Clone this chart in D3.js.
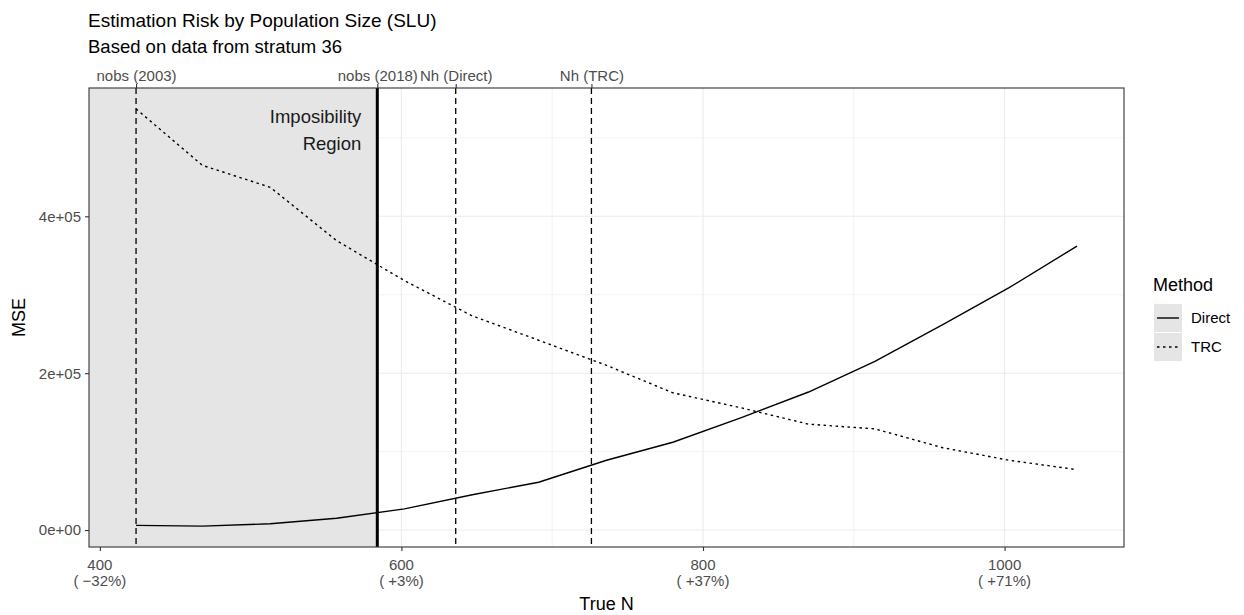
<!DOCTYPE html>
<html>
<head>
<meta charset="utf-8">
<script src="https://cdn.jsdelivr.net/npm/d3@7"></script>
<style>
  body { margin: 0; background: #fff; }
  text { font-family: "Liberation Sans", Arial, Helvetica, sans-serif; }
</style>
</head>
<body>
<svg id="chart" width="1244" height="615"></svg>
<script>
// ---- data ----
const trueN = [424, 468, 513, 557, 602, 647, 691, 736, 780, 825, 870, 914, 959, 1003, 1048];
const mseDirect = [6000, 5000, 8000, 15000, 27000, 45000, 61000, 89000, 112000, 143000, 176000, 215000, 262000, 309000, 362000];
const mseTRC = [537000, 465000, 437000, 369000, 318000, 273000, 242000, 210000, 175000, 156000, 135000, 129000, 105000, 89000, 77000];
const methods = ["Direct", "TRC"];
const refN = 584; // nobs (2018)
const markerValues = [424, 584, 636, 726];
const markerLabels = ["nobs (2003)", "nobs (2018)", "Nh (Direct)", "Nh (TRC)"];
const xTicks = [400, 600, 800, 1000];
const xTickPct = ["( \u221232%)", "( +3%)", "( +37%)", "( +71%)"];
const yTicks = [0, 200000, 400000];
const yTickLabels = ["0e+00", "2e+05", "4e+05"];

// ---- layout ----
const svg = d3.select("#chart");
const L = 89, R = 1124, T = 88, B = 547;
const FONT = "Liberation Sans, Arial, sans-serif";

function expand(ext, f) { const d = ext[1] - ext[0]; return [ext[0] - d * f, ext[1] + d * f]; }
const xExt = d3.extent(trueN);
const yExt = d3.extent(mseDirect.concat(mseTRC));
const x = d3.scaleLinear().domain(expand(xExt, 0.05)).range([L, R]);
const y = d3.scaleLinear().domain(expand(yExt, 0.05)).range([B, T]);

const g = svg.append("g");
g.append("rect").attr("x", L).attr("y", T).attr("width", R - L).attr("height", B - T).attr("fill", "#fff");

// grid
const xMinor = [500, 700, 900];
const yMinor = [100000, 300000, 500000];
g.selectAll(".xmin").data(xMinor).enter().append("line")
  .attr("x1", d => x(d)).attr("x2", d => x(d)).attr("y1", T).attr("y2", B)
  .attr("stroke", "#ebebeb").attr("stroke-width", 0.6);
g.selectAll(".ymin").data(yMinor).enter().append("line")
  .attr("x1", L).attr("x2", R).attr("y1", d => y(d)).attr("y2", d => y(d))
  .attr("stroke", "#ebebeb").attr("stroke-width", 0.6);
g.selectAll(".xmaj").data(xTicks).enter().append("line")
  .attr("x1", d => x(d)).attr("x2", d => x(d)).attr("y1", T).attr("y2", B)
  .attr("stroke", "#ebebeb").attr("stroke-width", 1.1);
g.selectAll(".ymaj").data(yTicks).enter().append("line")
  .attr("x1", L).attr("x2", R).attr("y1", d => y(d)).attr("y2", d => y(d))
  .attr("stroke", "#ebebeb").attr("stroke-width", 1.1);

// impossibility region
g.append("rect").attr("x", L).attr("y", T).attr("width", x(refN) - L).attr("height", B - T)
  .attr("fill", "#e5e5e5");

const ann = g.append("text").attr("text-anchor", "end").attr("font-size", 18.5).attr("fill", "#1a1a1a");
ann.append("tspan").attr("x", x(refN) - 16).attr("y", 123).text("Imposibility");
ann.append("tspan").attr("x", x(refN) - 16).attr("y", 150).text("Region");

// vertical markers
const dashedMarkers = [markerValues[0], markerValues[2], markerValues[3]];
g.selectAll(".vm").data(dashedMarkers).enter().append("line")
  .attr("x1", d => x(d)).attr("x2", d => x(d)).attr("y1", T).attr("y2", B)
  .attr("stroke", "#000").attr("stroke-width", 1.3).attr("stroke-dasharray", "6,4");
g.append("line").attr("x1", x(refN)).attr("x2", x(refN)).attr("y1", T).attr("y2", B)
  .attr("stroke", "#000").attr("stroke-width", 3);

// lines
const line = d3.line().x(d => x(d[0])).y(d => y(d[1]));
g.append("path").datum(trueN.map((n, i) => [n, mseDirect[i]]))
  .attr("d", line).attr("fill", "none").attr("stroke", "#000").attr("stroke-width", 1.4);
g.append("path").datum(trueN.map((n, i) => [n, mseTRC[i]]))
  .attr("d", line).attr("fill", "none").attr("stroke", "#000").attr("stroke-width", 1.4)
  .attr("stroke-dasharray", "2.5,3.5");

// panel border
g.append("rect").attr("x", L).attr("y", T).attr("width", R - L).attr("height", B - T)
  .attr("fill", "none").attr("stroke", "#333").attr("stroke-width", 1.1);

// bottom axis
const xAxis = d3.axisBottom(x).tickValues(xTicks).tickSize(4).tickFormat("");
const gx = svg.append("g").attr("transform", `translate(0,${B})`).call(xAxis);
gx.select(".domain").remove();
gx.selectAll(".tick line").attr("stroke", "#333").attr("stroke-width", 1.1);
const xl = svg.append("g").selectAll("text").data(xTicks).enter().append("text")
  .attr("text-anchor", "middle").attr("font-size", 15).attr("fill", "#4d4d4d");
xl.append("tspan").attr("x", d => x(d)).attr("y", 570).text(d => d);
xl.append("tspan").attr("x", d => x(d)).attr("y", 586).text((d, i) => xTickPct[i]);

// left axis
const yAxis = d3.axisLeft(y).tickValues(yTicks).tickSize(4).tickFormat((d, i) => yTickLabels[i]);
const gy = svg.append("g").attr("transform", `translate(${L},0)`).call(yAxis);
gy.select(".domain").remove();
gy.selectAll(".tick line").attr("stroke", "#333").attr("stroke-width", 1.1);
gy.selectAll(".tick text").attr("font-size", 15).attr("fill", "#4d4d4d")
  .attr("font-family", FONT).attr("x", -8);

// top axis
const topAxis = d3.axisTop(x).tickValues(markerValues).tickSize(4).tickFormat((d, i) => markerLabels[i]);
const gt = svg.append("g").attr("transform", `translate(0,${T})`).call(topAxis);
gt.select(".domain").remove();
gt.selectAll(".tick line").attr("stroke", "#333").attr("stroke-width", 1.1);
gt.selectAll(".tick text").attr("font-size", 15).attr("fill", "#4d4d4d")
  .attr("font-family", FONT).attr("y", -7);

// axis titles
svg.append("text").attr("x", (L + R) / 2).attr("y", 610).attr("text-anchor", "middle")
  .attr("font-size", 18).attr("fill", "#000").text("True N");
svg.append("text").attr("transform", `translate(25,${(T + B) / 2}) rotate(-90)`).attr("text-anchor", "middle")
  .attr("font-size", 18).attr("fill", "#000").text("MSE");

// titles
svg.append("text").attr("x", L - 1).attr("y", 27).attr("font-size", 19).attr("fill", "#000")
  .text("Estimation Risk by Population Size (SLU)");
svg.append("text").attr("x", L - 1).attr("y", 53).attr("font-size", 18.5).attr("fill", "#000")
  .text("Based on data from stratum 36");

// legend
const lg = svg.append("g");
lg.append("text").attr("x", 1153).attr("y", 291).attr("font-size", 18).attr("fill", "#000").text("Method");
const dashes = [null, "2.5,3.5"];
methods.forEach((m, i) => {
  const ky = 304 + i * 29;
  lg.append("rect").attr("x", 1154).attr("y", ky).attr("width", 28).attr("height", 28).attr("fill", "#e5e5e5");
  const l = lg.append("line").attr("x1", 1157).attr("x2", 1179).attr("y1", ky + 14).attr("y2", ky + 14)
    .attr("stroke", "#000").attr("stroke-width", 1.4);
  if (dashes[i]) l.attr("stroke-dasharray", dashes[i]);
  lg.append("text").attr("x", 1191).attr("y", ky + 19).attr("font-size", 15).attr("fill", "#000").text(m);
});
</script>
</body>
</html>
